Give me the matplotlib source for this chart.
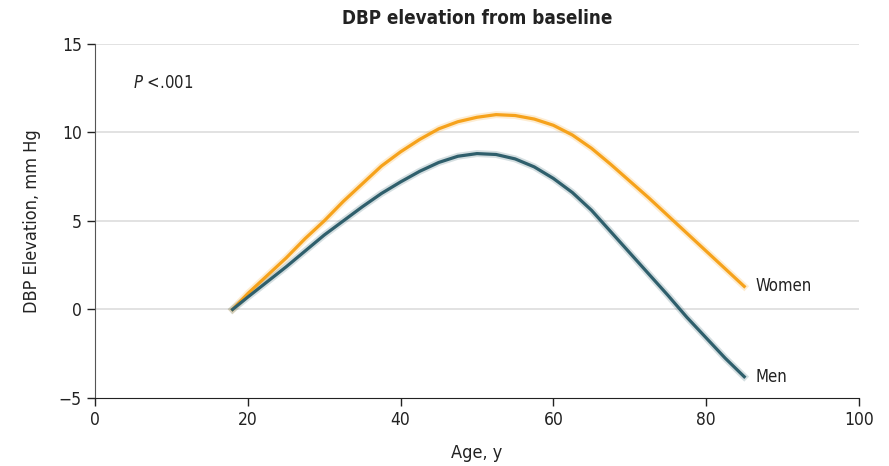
#!/usr/bin/env python3

import matplotlib
matplotlib.use("Agg")
import matplotlib.pyplot as plt

# values
ages = [18, 20, 22.5, 25, 27.5, 30, 32.5, 35, 37.5, 40, 42.5, 45, 47.5, 50, 52.5,
        55, 57.5, 60, 62.5, 65, 67.5, 70, 72.5, 75, 77.5, 80, 82.5, 85]
women = [0.0, 0.9, 1.9, 2.9, 4.0, 5.0, 6.1, 7.1, 8.1, 8.9, 9.6, 10.2, 10.6, 10.85, 11.0,
         10.95, 10.75, 10.4, 9.85, 9.1, 8.2, 7.25, 6.3, 5.3, 4.3, 3.3, 2.3, 1.3]
men = [0.0, 0.7, 1.55, 2.4, 3.3, 4.2, 5.0, 5.8, 6.55, 7.2, 7.8, 8.3, 8.65, 8.8, 8.75,
       8.5, 8.05, 7.4, 6.6, 5.6, 4.4, 3.2, 2.0, 0.8, -0.45, -1.6, -2.75, -3.8]

x_ticks = [0, 20, 40, 60, 80, 100]
y_ticks = [-5, 0, 5, 10, 15]

WOMEN_COLOR = "#F6A21B"
MEN_COLOR = "#2F5F6C"


def main():
    plt.rcParams["font.family"] = ["DejaVu Sans"]
    plt.rcParams["font.stretch"] = "condensed"

    fig = plt.figure(figsize=(8.89, 4.66), dpi=100)
    ax = fig.add_axes([0.107, 0.146, 0.859, 0.760])

    # faint halo, like the confidence band in the original
    ax.plot(ages, women, color=WOMEN_COLOR, lw=5, alpha=0.2, zorder=2)
    ax.plot(ages, men, color=MEN_COLOR, lw=5, alpha=0.2, zorder=2)
    ax.plot(ages, women, color=WOMEN_COLOR, lw=2.3, solid_joinstyle="round", zorder=3)
    ax.plot(ages, men, color=MEN_COLOR, lw=2.3, solid_joinstyle="round", zorder=3)

    ax.text(86.5, women[-1], "Women", fontsize=12, va="center", ha="left", color="#222222")
    ax.text(86.5, men[-1], "Men", fontsize=12, va="center", ha="left", color="#222222")
    ax.text(5, 12.8, r"$\it{P}$ <.001", fontsize=12, va="center", ha="left", color="#222222")

    ax.set_xlim(0, 100)
    ax.set_ylim(-5, 15)
    ax.set_xticks(x_ticks)
    ax.set_yticks(y_ticks)
    ax.tick_params(labelsize=12.5, length=6, width=1, colors="#222222")

    for y in y_ticks[1:]:
        ax.axhline(y, color="#dddddd", lw=1.2, zorder=1)

    ax.spines["top"].set_visible(False)
    ax.spines["right"].set_visible(False)
    ax.spines["left"].set_color("#555555")
    ax.spines["bottom"].set_color("#222222")

    ax.set_xlabel("Age, y", fontsize=13, color="#222222", labelpad=11)
    ax.set_ylabel("DBP Elevation, mm Hg", fontsize=13, color="#222222", labelpad=13)
    ax.set_title("DBP elevation from baseline", fontsize=13.5, fontweight="bold",
                 color="#222222", pad=14)

    fig.savefig("out.png", dpi=100)


if __name__ == "__main__":
    main()
